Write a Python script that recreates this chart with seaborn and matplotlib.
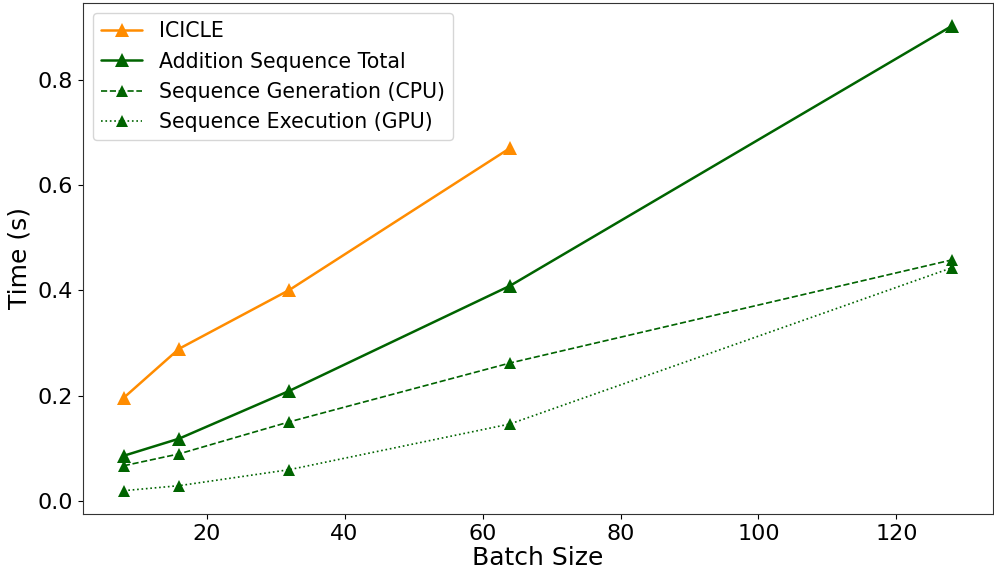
import numpy as np
import pandas as pd
import matplotlib
matplotlib.use("Agg")
import matplotlib.pyplot as plt
import seaborn as sns

batch_icicle = [8, 16, 32, 64]
icicle = [0.196, 0.289, 0.401, 0.671]
batch_seq = [8, 16, 32, 64, 128]
total = [0.0855, 0.118, 0.209, 0.409, 0.903]
cpu = [0.0665, 0.089, 0.150, 0.262, 0.458]
gpu = [0.019, 0.0285, 0.059, 0.146, 0.443]

sns.set_style("ticks")
plt.rcParams['font.family'] = ['DejaVu Sans']
for k in ['text.color', 'axes.labelcolor', 'xtick.color', 'ytick.color']:
    plt.rcParams[k] = 'black'

fig, ax = plt.subplots(figsize=(9.94, 5.71), dpi=100)

sns.lineplot(x=batch_icicle, y=icicle, ax=ax, color='darkorange', marker='^',
             markersize=10, linewidth=1.8, markeredgewidth=0, label='ICICLE')
sns.lineplot(x=batch_seq, y=total, ax=ax, color='darkgreen', marker='^',
             markersize=10, linewidth=1.8, markeredgewidth=0, label='Addition Sequence Total')
sns.lineplot(x=batch_seq, y=cpu, ax=ax, color='darkgreen', marker='^',
             markersize=8, linewidth=1.2, linestyle='--', markeredgewidth=0,
             label='Sequence Generation (CPU)')
sns.lineplot(x=batch_seq, y=gpu, ax=ax, color='darkgreen', marker='^',
             markersize=8, linewidth=1.2, linestyle=':', markeredgewidth=0,
             label='Sequence Execution (GPU)')

ax.set_xlabel('Batch Size', fontsize=18, labelpad=2)
ax.set_ylabel('Time (s)', fontsize=18)
ax.tick_params(labelsize=16, colors='black')
ax.set_xticks([20, 40, 60, 80, 100, 120])
ax.set_yticks([0.0, 0.2, 0.4, 0.6, 0.8])
leg = ax.legend(fontsize=14.8, loc='upper left')
for t in leg.get_texts():
    t.set_color('black')
for s in ax.spines.values():
    s.set_color('#333333')

fig.subplots_adjust(left=0.083, right=0.999, top=0.995, bottom=0.1)
fig.savefig('out.png', dpi=100)
